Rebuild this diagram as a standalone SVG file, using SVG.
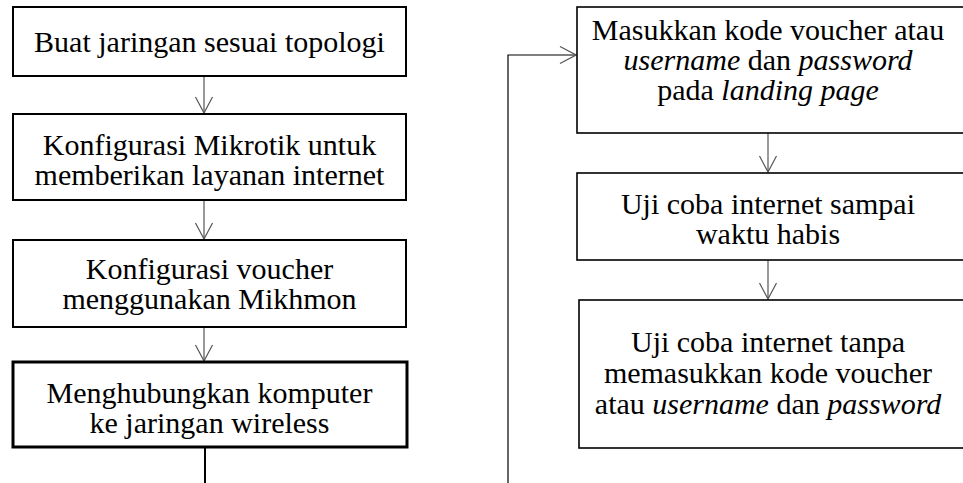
<svg xmlns="http://www.w3.org/2000/svg" width="963" height="483" viewBox="0 0 963 483">
<style>
.box{fill:#fff;stroke:#000;stroke-width:2}
.thick{stroke-width:3}
.thin{stroke-width:1.6}
text{font-family:'Liberation Serif','Times New Roman',serif;font-size:30px;fill:#000;text-anchor:middle}
.i{font-style:italic}
.arr{fill:none;stroke:#555;stroke-width:1.2}
.blk{fill:none;stroke:#000}
</style>
<defs>
<marker id="chev" viewBox="-1 -10 18 20" refX="16" refY="0" markerWidth="18" markerHeight="20" markerUnits="userSpaceOnUse" orient="auto">
<path d="M0,-8.5 L16,0 L0,8.5" fill="none" stroke="#555" stroke-width="1.2"/>
</marker>
</defs>
<rect width="963" height="483" fill="#fff"/>
<g id="connectors">
<line class="arr" x1="204" y1="76" x2="204" y2="113" marker-end="url(#chev)"/>
<line class="arr" x1="204" y1="200" x2="204" y2="239" marker-end="url(#chev)"/>
<line class="arr" x1="204" y1="327" x2="204" y2="361" marker-end="url(#chev)"/>
<line class="blk" stroke-width="2" x1="205" y1="448" x2="205" y2="483"/>
<polyline class="blk" stroke-width="1.2" points="508,483 508,55 576,55" marker-end="url(#chev)"/>
<line class="arr" x1="768" y1="133" x2="768" y2="172" marker-end="url(#chev)"/>
<line class="arr" x1="768" y1="260" x2="768" y2="299" marker-end="url(#chev)"/>
</g>
<g id="n1">
<rect class="box" x="13" y="7" width="393" height="69"/>
<text x="209.5" y="52">Buat jaringan sesuai topologi</text>
</g>
<g id="n2">
<rect class="box" x="13" y="114" width="393" height="86"/>
<text x="209.5" y="155">Konfigurasi Mikrotik untuk</text>
<text x="209.5" y="185">memberikan layanan internet</text>
</g>
<g id="n3">
<rect class="box" x="13" y="240" width="393" height="87"/>
<text x="209.5" y="279">Konfigurasi voucher</text>
<text x="209.5" y="309">menggunakan Mikhmon</text>
</g>
<g id="n4">
<rect class="box thick" x="13" y="362" width="394" height="85"/>
<text x="209.5" y="403">Menghubungkan komputer</text>
<text x="209.5" y="433">ke jaringan wireless</text>
</g>
<g id="n5">
<rect class="box thin" x="577" y="7" width="400" height="126"/>
<text x="768" y="40">Masukkan kode voucher atau</text>
<text x="768" y="70"><tspan class="i">username</tspan> dan <tspan class="i">password</tspan></text>
<text x="768" y="100">pada <tspan class="i">landing page</tspan></text>
</g>
<g id="n6">
<rect class="box thin" x="577" y="173" width="400" height="87"/>
<text x="768" y="214">Uji coba internet sampai</text>
<text x="768" y="244">waktu habis</text>
</g>
<g id="n7">
<rect class="box thin" x="579" y="300" width="400" height="148"/>
<text x="768" y="352">Uji coba internet tanpa</text>
<text x="768" y="383">memasukkan kode voucher</text>
<text x="768" y="414">atau <tspan class="i">username</tspan> dan <tspan class="i">password</tspan></text>
</g>
</svg>
